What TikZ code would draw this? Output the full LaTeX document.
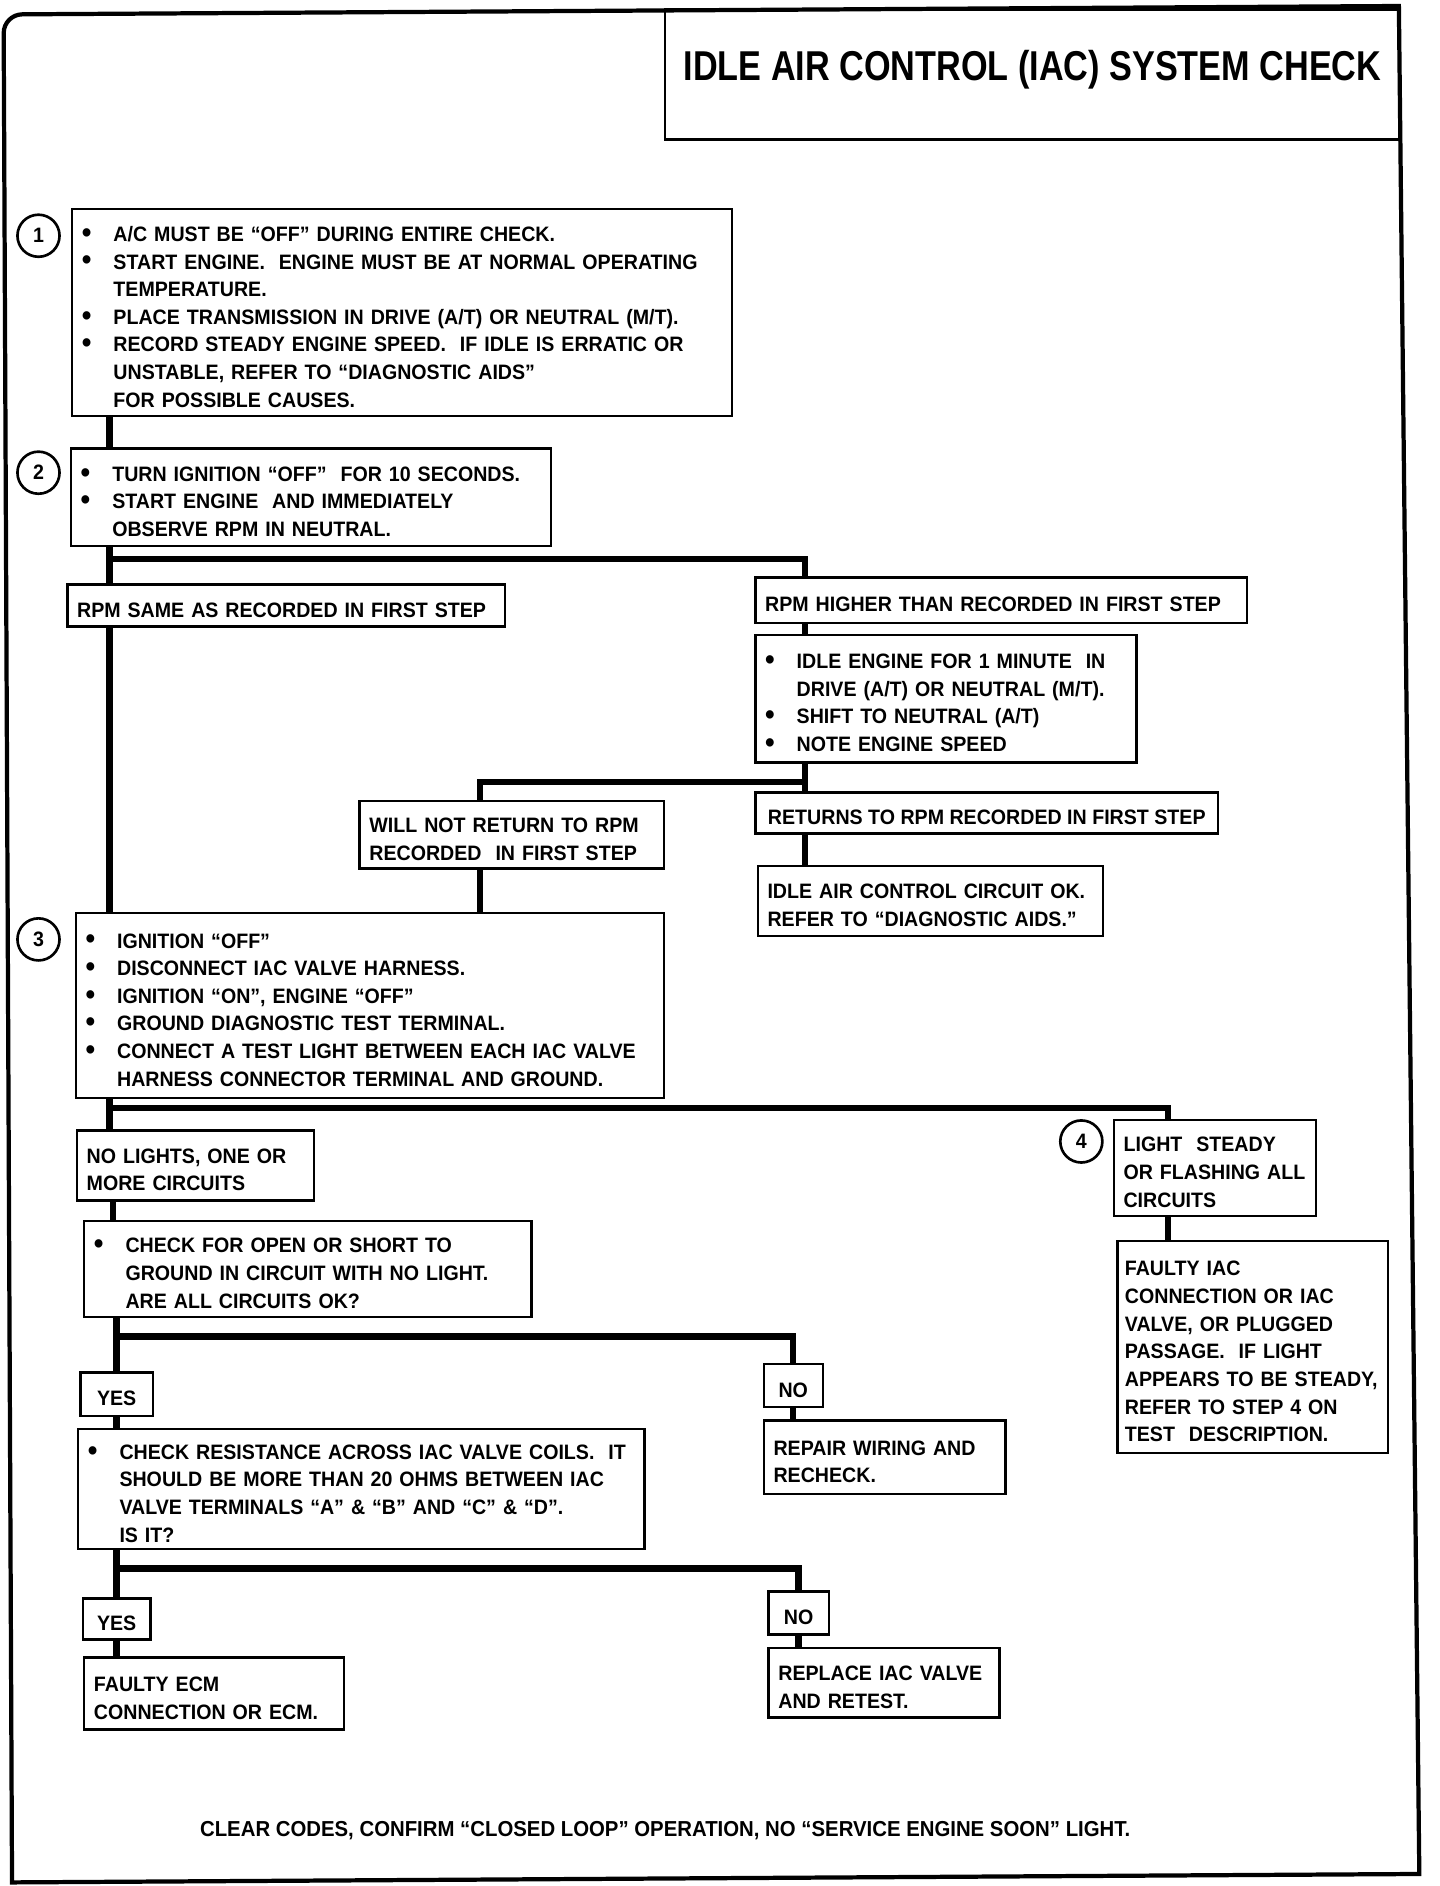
\documentclass[tikz,border=0pt]{standalone}
\usepackage{fontspec}
\setmainfont{Liberation Sans}[FakeStretch=0.94]
\newfontfamily\titlefont{Liberation Sans}[FakeStretch=0.82]

\newcommand{\bul}{\makebox[0.42cm][l]{\raisebox{-0.3pt}{\scalebox{1.4}{\textbullet}}}}
\newcommand{\ind}{\hspace*{0.42cm}}
\newcommand{\chartfont}{\fontsize{7.9}{10.47}\selectfont\bfseries}

\begin{document}
\begin{tikzpicture}[x=0.016cm,y=-0.016cm,
  every node/.style={font=\chartfont},
  stepbox/.style={draw,line width=0.9pt,anchor=north west,align=left,inner xsep=0.13cm,inner ysep=0pt,
    execute at begin node={\rule{0pt}{8.9pt}}},
  answer/.style={stepbox,align=center},
  num/.style={circle,draw,line width=1pt,minimum size=0.56cm,inner sep=0pt},
  link/.style={line width=2.4pt},
  frame/.style={line width=1.6pt}]
  \useasboundingbox (0,0) rectangle (1197,1568);
  % page frame and title
  \draw[frame] (1163,5) [rounded corners=0.25cm] -- (3,12) [sharp corners] -- (10,1565) -- (1180,1558) -- cycle;
  \node[draw,line width=0.9pt,anchor=north west,minimum width=9.776cm,minimum height=1.728cm,
    text height=0.42cm,text depth=0.25cm,font=\titlefont\fontsize{15.8}{18}\selectfont\bfseries] (title) at (552,7)
    {IDLE AIR CONTROL (IAC) SYSTEM CHECK};

  % step 1 and 2
  \node[num] (n1) at (32,196) {1};
  \node[stepbox,minimum width=8.784cm,minimum height=2.752cm,text width=8.524cm] (s1) at (59,173)
    {\bul A/C MUST BE “OFF” DURING ENTIRE CHECK.\\
     \bul START ENGINE.\ \ ENGINE MUST BE AT NORMAL OPERATING\\
     \ind TEMPERATURE.\\
     \bul PLACE TRANSMISSION IN DRIVE (A/T) OR NEUTRAL (M/T).\\
     \bul RECORD STEADY ENGINE SPEED.\ \ IF IDLE IS ERRATIC OR\\
     \ind UNSTABLE, REFER TO “DIAGNOSTIC AIDS”\\
     \ind FOR POSSIBLE CAUSES.};
  \node[num] (n2) at (32,393) {2};
  \node[stepbox,minimum width=6.384cm,minimum height=1.296cm,text width=6.124cm] (s2) at (58,372)
    {\bul TURN IGNITION “OFF”\ \ FOR 10 SECONDS.\\
     \bul START ENGINE\ \ AND IMMEDIATELY\\
     \ind OBSERVE RPM IN NEUTRAL.};

  % rpm branches
  \node[stepbox,minimum width=5.824cm,minimum height=0.56cm,text width=5.564cm] (same) at (55,485)
    {RPM SAME AS RECORDED IN FIRST STEP};
  \node[stepbox,minimum width=6.544cm,minimum height=0.608cm,text width=6.284cm] (higher) at (627,479)
    {RPM HIGHER THAN RECORDED IN FIRST STEP};
  \node[stepbox,minimum width=5.072cm,minimum height=1.696cm,text width=4.812cm] (idle) at (627,527)
    {\bul IDLE ENGINE FOR 1 MINUTE\ \ IN\\
     \ind DRIVE (A/T) OR NEUTRAL (M/T).\\
     \bul SHIFT TO NEUTRAL (A/T)\\
     \bul NOTE ENGINE SPEED};
  \node[stepbox,minimum width=4.048cm,minimum height=0.896cm,text width=3.788cm] (willnot) at (298,665)
    {WILL NOT RETURN TO RPM\\ RECORDED\ \ IN FIRST STEP};
  \node[stepbox,minimum width=6.16cm,minimum height=0.544cm] (returns) at (627,658)
    {RETURNS TO RPM RECORDED IN FIRST STEP};
  \node[stepbox,minimum width=4.592cm,minimum height=0.928cm,text width=4.332cm] (ok) at (629,719)
    {IDLE AIR CONTROL CIRCUIT OK.\\ REFER TO “DIAGNOSTIC AIDS.”};

  % step 3
  \node[num] (n3) at (32,781) {3};
  \node[stepbox,minimum width=7.824cm,minimum height=2.464cm,text width=7.564cm] (s3) at (62,758)
    {\bul IGNITION “OFF”\\
     \bul DISCONNECT IAC VALVE HARNESS.\\
     \bul IGNITION “ON”, ENGINE “OFF”\\
     \bul GROUND DIAGNOSTIC TEST TERMINAL.\\
     \bul CONNECT A TEST LIGHT BETWEEN EACH IAC VALVE\\
     \ind HARNESS CONNECTOR TERMINAL AND GROUND.};
  \node[stepbox,minimum width=3.152cm,minimum height=0.928cm,text width=2.892cm] (nolights) at (63,939)
    {NO LIGHTS, ONE OR\\ MORE CIRCUITS};
  \node[num] (n4) at (899,949) {4};
  \node[stepbox,minimum width=2.688cm,minimum height=1.28cm,text width=2.428cm] (steady) at (925,930)
    {LIGHT\ \ STEADY\\ OR FLASHING ALL\\ CIRCUITS};
  \node[stepbox,inner xsep=0.1cm,minimum width=3.6cm,minimum height=2.816cm,text width=3.4cm] (faulty) at (928,1031)
    {FAULTY IAC\\ CONNECTION OR IAC\\ VALVE, OR PLUGGED\\ PASSAGE.\ \ IF LIGHT\\
     APPEARS TO BE STEADY,\\ REFER TO STEP 4 ON\\ TEST\ \ DESCRIPTION.};

  % circuit checks
  \node[stepbox,minimum width=5.952cm,minimum height=1.28cm,text width=5.692cm] (open) at (69,1014)
    {\bul CHECK FOR OPEN OR SHORT TO\\
     \ind GROUND IN CIRCUIT WITH NO LIGHT.\\
     \ind ARE ALL CIRCUITS OK?};
  \node[answer,minimum width=0.96cm,minimum height=0.576cm,text width=0.7cm] (yes1) at (66,1140) {YES};
  \node[answer,minimum width=0.784cm,minimum height=0.576cm,text width=0.524cm] (no1) at (634,1133) {NO};
  \node[stepbox,minimum width=3.216cm,minimum height=0.976cm,text width=2.956cm] (repair) at (634,1180)
    {REPAIR WIRING AND\\ RECHECK.};
  \node[stepbox,minimum width=7.536cm,minimum height=1.6cm,text width=7.276cm] (resist) at (64,1187)
    {\bul CHECK RESISTANCE ACROSS IAC VALVE COILS.\ \ IT\\
     \ind SHOULD BE MORE THAN 20 OHMS BETWEEN IAC\\
     \ind VALVE TERMINALS “A” \& “B” AND “C” \& “D”.\\
     \ind IS IT?};
  \node[answer,minimum width=0.896cm,minimum height=0.544cm,text width=0.636cm] (yes2) at (68,1328) {YES};
  \node[answer,minimum width=0.8cm,minimum height=0.576cm,text width=0.54cm] (no2) at (638,1322) {NO};
  \node[stepbox,minimum width=3.456cm,minimum height=0.96cm,text width=3.196cm] (ecm) at (69,1377)
    {FAULTY ECM\\ CONNECTION OR ECM.};
  \node[stepbox,minimum width=3.072cm,minimum height=0.928cm,text width=2.812cm] (replace) at (638,1369)
    {REPLACE IAC VALVE\\ AND RETEST.};

  \node[font=\fontsize{8.2}{10}\selectfont\bfseries] (foot) at (553,1522)
    {CLEAR CODES, CONFIRM “CLOSED LOOP” OPERATION, NO “SERVICE ENGINE SOON” LIGHT.};

  % trunks and junctions
  \coordinate (tA) at (91,0);
  \coordinate (tB) at (669,0);
  \coordinate (tC) at (399,0);
  \coordinate (tD) at (971,0);
  \coordinate (tE) at (94,0);
  \coordinate (jA) at (91,465);
  \coordinate (jB) at (669,650);
  \coordinate (jC) at (91,921);
  \coordinate (jD) at (96,1111);
  \coordinate (jE) at (96,1304);

  \draw[link] (s1.south -| tA) -- (s2.north -| tA);
  \draw[link] (s2.south -| tA) -- (same.north -| tA);
  \draw[link] (jA) -| (higher.north -| tB);
  \draw[link] (same.south -| tA) -- (s3.north -| tA);
  \draw[link] (higher.south -| tB) -- (idle.north -| tB);
  \draw[link] (idle.south -| tB) -- (returns.north -| tB);
  \draw[link] (jB) -| (willnot.north -| tC);
  \draw[link] (returns.south -| tB) -- (ok.north -| tB);
  \draw[link] (willnot.south -| tC) -- (s3.north -| tC);
  \draw[link] (s3.south -| tA) -- (nolights.north -| tA);
  \draw[link] (jC) -| (steady.north -| tD);
  \draw[link] (steady.south -| tD) -- (faulty.north -| tD);
  \draw[link] (nolights.south -| tE) -- (open.north -| tE);
  \draw[link] (open.south -| yes1.north) -- (yes1.north);
  \draw[link] (jD) -| (no1.north);
  \draw[link] (no1.south) -- (repair.north -| no1.south);
  \draw[link] (yes1.south) -- (resist.north -| yes1.south);
  \draw[link] (resist.south -| yes2.north) -- (yes2.north);
  \draw[link] (jE) -| (no2.north);
  \draw[link] (yes2.south) -- (ecm.north -| yes2.south);
  \draw[link] (no2.south) -- (replace.north -| no2.south);
\end{tikzpicture}
\end{document}
